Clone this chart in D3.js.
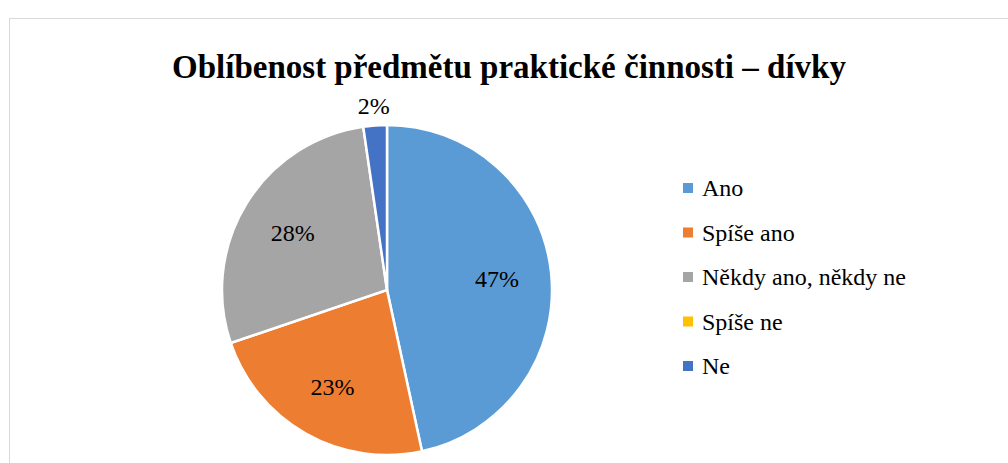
<!DOCTYPE html>
<html><head><meta charset="utf-8"><script src="https://cdn.jsdelivr.net/npm/d3@7"></script>
<style>
  .serif, .serif text { font-family: "Liberation Serif", "Times New Roman", Tinos, serif !important; }
</style>
</head>
<body style="margin:0">
<script>
// data
const categories = ["Ano", "Spíše ano", "Někdy ano, někdy ne", "Spíše ne", "Ne"];
const values = [46.6, 23.2, 27.9, 0, 2.3];
const colors = ["#5B9BD5", "#ED7D31", "#A5A5A5", "#FFC000", "#4472C4"];
const chartTitle = "Oblíbenost předmětu praktické činnosti – dívky";

const width = 1008, height = 463;
const cx = 387, cy = 290, radius = 165;

const svg = d3.select("body").append("svg")
  .attr("class", "serif")
  .attr("width", width)
  .attr("height", height);

// chart frame
svg.append("rect")
  .attr("x", 9.5).attr("y", 18.5)
  .attr("width", width + 10).attr("height", height + 10)
  .attr("fill", "#fff")
  .attr("stroke", "#d9d9d9")
  .attr("stroke-width", 1);

svg.append("text")
  .attr("class", "serif")
  .attr("x", 509).attr("y", 78)
  .attr("text-anchor", "middle")
  .style("font-size", "33px")
  .style("font-weight", "bold")
  .text(chartTitle);

const data = categories.map((c, i) => ({ name: c, value: values[i], color: colors[i] }));

const pie = d3.pie().sort(null).value(d => d.value);
const arcs = pie(data);
const arc = d3.arc().innerRadius(0).outerRadius(radius);
const labelArc = d3.arc().innerRadius(radius * 0.67).outerRadius(radius * 0.67);
const outerArc = d3.arc().innerRadius(radius * 1.12).outerRadius(radius * 1.12);

const g = svg.append("g").attr("transform", `translate(${cx},${cy})`);

g.selectAll("path")
  .data(arcs.filter(d => d.data.value > 0))
  .enter().append("path")
  .attr("d", arc)
  .attr("fill", d => d.data.color)
  .attr("stroke", "#fff")
  .attr("stroke-width", 2.5);

g.selectAll("text.lbl")
  .data(arcs.filter(d => d.data.value > 0))
  .enter().append("text")
  .attr("class", "lbl serif")
  .attr("transform", d => {
    const p = d.data.value < 5 ? outerArc.centroid(d) : labelArc.centroid(d);
    return `translate(${p[0]},${p[1]})`;
  })
  .attr("text-anchor", "middle")
  .attr("dy", "0.35em")
  .style("font-size", "24px")
  .attr("fill", "#000")
  .text(d => Math.round(d.data.value) + "%");

// legend
const legend = svg.append("g").attr("transform", "translate(683,188)");
const rows = legend.selectAll("g")
  .data(data)
  .enter().append("g")
  .attr("transform", (d, i) => `translate(0,${i * 44.5})`);

rows.append("rect")
  .attr("x", 0).attr("y", -5)
  .attr("width", 10).attr("height", 10)
  .attr("fill", d => d.color);

rows.append("text")
  .attr("class", "serif")
  .attr("x", 19)
  .attr("y", 0)
  .attr("dy", "0.35em")
  .style("font-size", "24px")
  .text(d => d.name);
</script>
</body>
</html>
